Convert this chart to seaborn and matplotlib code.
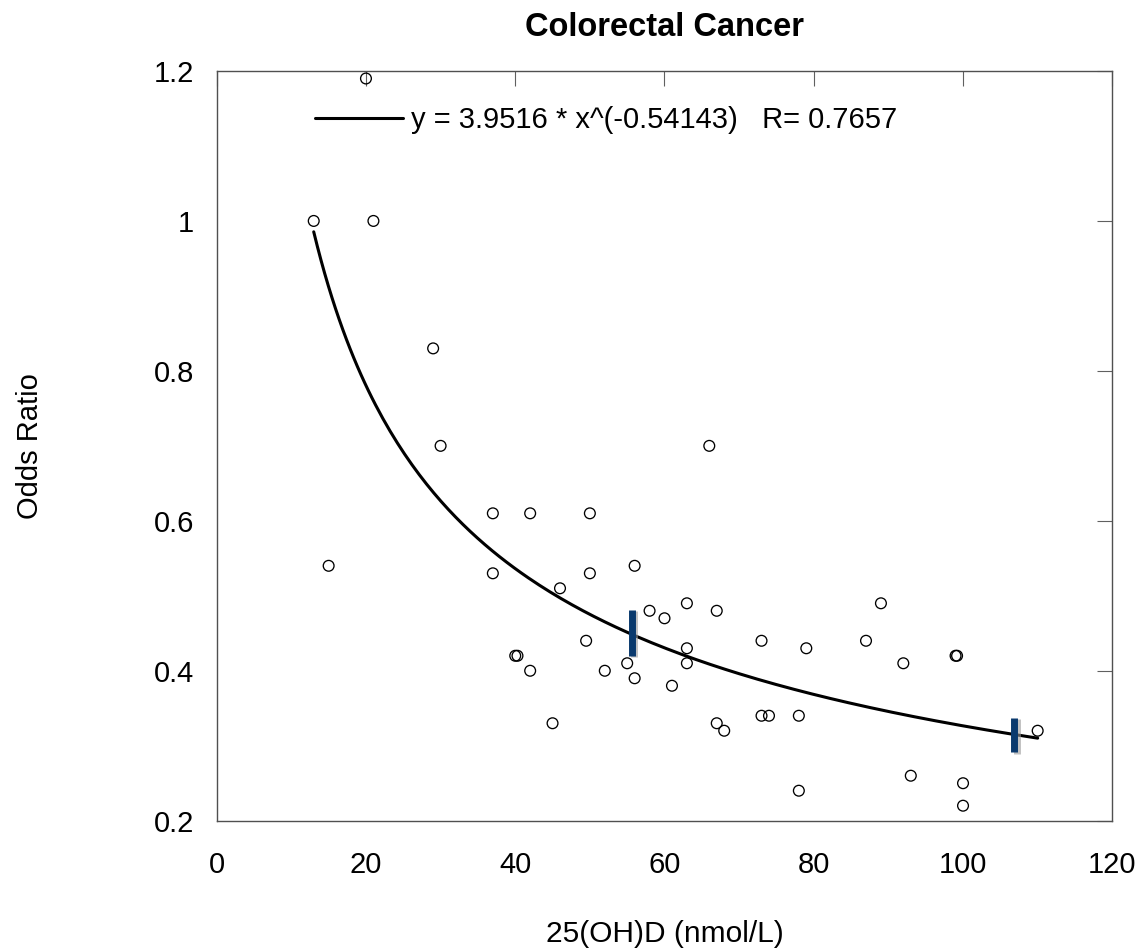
import numpy as np
import pandas as pd
import matplotlib
matplotlib.use("Agg")
import matplotlib.pyplot as plt
import matplotlib.patheffects as pe
import seaborn as sns

# ---------------- data ----------------
vitd = [13, 15, 20, 21, 29, 30, 37, 37, 40, 40.3, 42, 42, 45, 46, 49.5, 50, 50,
        52, 55, 56, 56, 58, 60, 61, 63, 63, 63, 66, 67, 67, 68, 73, 73, 74,
        78, 78, 79, 87, 89, 92, 93, 99, 99.2, 100, 100, 110]
odds = [1.00, 0.54, 1.19, 1.00, 0.83, 0.70, 0.61, 0.53, 0.42, 0.42, 0.61, 0.40,
        0.33, 0.51, 0.44, 0.61, 0.53, 0.40, 0.41, 0.54, 0.39, 0.48, 0.47, 0.38,
        0.49, 0.43, 0.41, 0.70, 0.48, 0.33, 0.32, 0.44, 0.34, 0.34, 0.34, 0.24,
        0.43, 0.44, 0.49, 0.41, 0.26, 0.42, 0.42, 0.25, 0.22, 0.32]

# power-law fit stated in the chart legend
fit_a = 3.9516
fit_b = -0.54143
fit_r = 0.7657
fit_range = [13, 110]

# blue range markers (x, y_low, y_high)
marker_x = [55.6, 106.8]
marker_lo = [0.420, 0.291]
marker_hi = [0.481, 0.337]

x_ticks = [0, 20, 40, 60, 80, 100, 120]
y_ticks = [0.2, 0.4, 0.6, 0.8, 1.0, 1.2]
y_tick_labels = ["0.2", "0.4", "0.6", "0.8", "1", "1.2"]

title = "Colorectal Cancer"
x_label = "25(OH)D (nmol/L)"
y_label = "Odds Ratio"

# ---------------- style ----------------
sns.set_style("white")
plt.rcParams["font.family"] = ["Liberation Sans", "DejaVu Sans"]
plt.rcParams["text.color"] = "black"
plt.rcParams["axes.labelcolor"] = "black"
plt.rcParams["xtick.labelcolor"] = "black"
plt.rcParams["ytick.labelcolor"] = "black"

fig = plt.figure(figsize=(11.39, 9.48), dpi=100)
ax = fig.add_axes([216.7 / 1139, 1 - 820.7 / 948, (1112.3 - 216.7) / 1139, (820.7 - 71) / 948])

pts = pd.DataFrame({"x": vitd, "y": odds})
sns.scatterplot(data=pts, x="x", y="y", ax=ax, s=60, marker="o",
                facecolor="none", edgecolor="black", linewidth=0.95, zorder=3)

xs = np.linspace(fit_range[0], fit_range[1], 200)
curve = pd.DataFrame({"x": xs, "y": fit_a * xs ** fit_b})
fit_label = f"y = {fit_a} * x^({fit_b})   R= {fit_r}"
sns.lineplot(data=curve, x="x", y="y", ax=ax, color="black", linewidth=2.2,
             label=fit_label, zorder=2)

ax.vlines(marker_x, marker_lo, marker_hi, colors="#0a3a6e", linewidth=5,
          zorder=4,
          path_effects=[pe.SimpleLineShadow(offset=(2, -1), shadow_color="#999999", alpha=0.6),
                        pe.Normal()])

ax.set_xlim(0, 120)
ax.set_ylim(0.2, 1.2)
ax.set_xticks(x_ticks)
ax.set_yticks(y_ticks)
ax.set_yticklabels(y_tick_labels)

for sp in ax.spines.values():
    sp.set_visible(True)
    sp.set_color("#505050")
    sp.set_linewidth(1.0)

ax.tick_params(axis="both", direction="in", length=10.8, width=0.8, color="#606060",
               top=True, right=True, labelsize=21, labelcolor="black")
ax.tick_params(axis="x", pad=21.5)
ax.tick_params(axis="y", pad=16.5)

ax.set_xlabel(x_label, fontsize=21.5, va="baseline", color="black")
ax.xaxis.set_label_coords(0.5, (820.7 - 941.7) / 749.7)
ax.set_ylabel(y_label, fontsize=21, color="black")
ax.yaxis.set_label_coords((44 - 216.7) / 895.6, 0.5)

ax.set_title(title, fontsize=23.5, fontweight="bold", y=1 + (71 - 36) / 749.7,
             va="baseline", pad=0, color="black")

handles, labels = ax.get_legend_handles_labels()
leg = ax.legend(handles, labels, loc="center left",
                bbox_to_anchor=((315 - 216.7) / 895.6, 1 - (120 - 71) / 749.7),
                frameon=False, fontsize=21, handlelength=3.0, handletextpad=0.3,
                borderpad=0, borderaxespad=0)
for t in leg.get_texts():
    t.set_color("black")

fig.savefig("out.png", dpi=100)
